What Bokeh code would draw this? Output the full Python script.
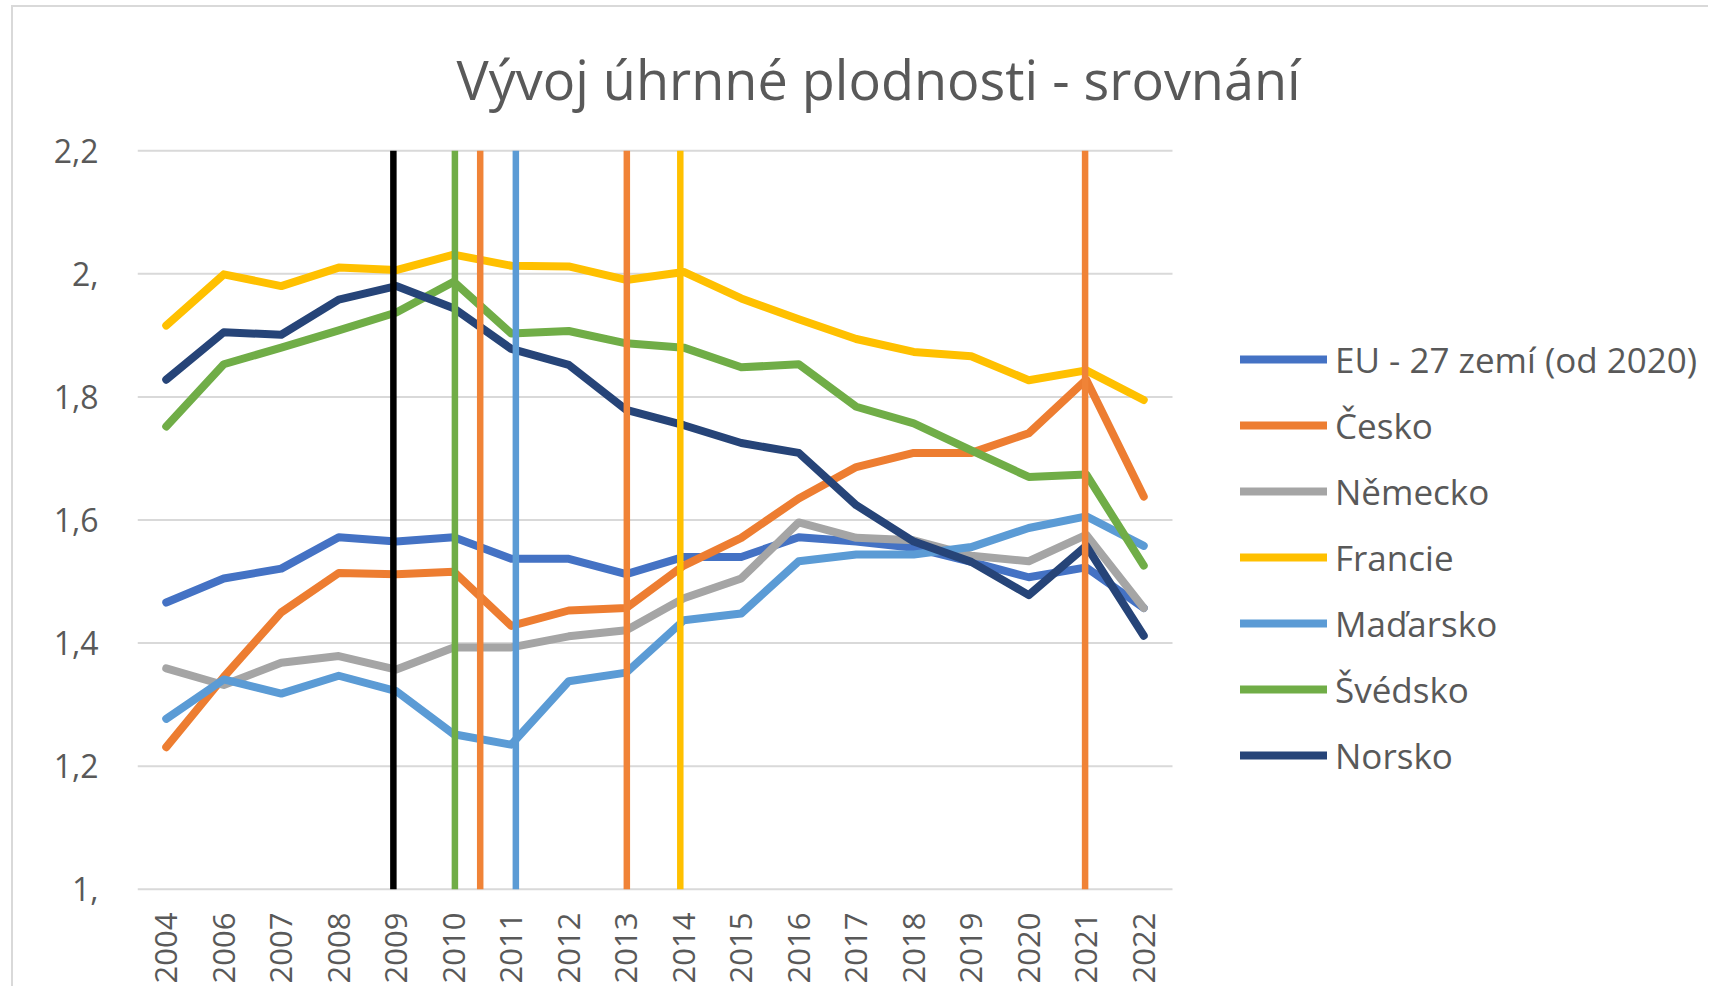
import math
from bokeh.plotting import figure
from bokeh.models import Range1d, FixedTicker, Legend, LegendItem
from bokeh.embed import file_html
from bokeh.resources import INLINE

# ---------------- data ----------------
years = ["2004", "2006", "2007", "2008", "2009", "2010", "2011", "2012", "2013",
         "2014", "2015", "2016", "2017", "2018", "2019", "2020", "2021", "2022"]

eu      = [1.466, 1.505, 1.521, 1.572, 1.565, 1.572, 1.537, 1.537, 1.512,
           1.540, 1.540, 1.572, 1.565, 1.555, 1.532, 1.507, 1.523, 1.457]
cesko   = [1.231, 1.345, 1.450, 1.514, 1.512, 1.516, 1.428, 1.453, 1.457,
           1.526, 1.571, 1.635, 1.686, 1.709, 1.709, 1.741, 1.828, 1.638]
nemecko = [1.359, 1.332, 1.368, 1.379, 1.357, 1.393, 1.393, 1.411, 1.421,
           1.473, 1.505, 1.596, 1.571, 1.567, 1.542, 1.533, 1.576, 1.457]
francie = [1.916, 1.999, 1.980, 2.010, 2.006, 2.031, 2.013, 2.012, 1.990,
           2.003, 1.960, 1.926, 1.894, 1.873, 1.866, 1.827, 1.843, 1.795]
madarsko = [1.277, 1.341, 1.318, 1.347, 1.322, 1.252, 1.235, 1.338, 1.352,
            1.437, 1.448, 1.533, 1.544, 1.544, 1.556, 1.587, 1.606, 1.558]
svedsko = [1.752, 1.853, 1.880, 1.908, 1.937, 1.987, 1.903, 1.907, 1.887,
           1.880, 1.848, 1.853, 1.784, 1.757, 1.713, 1.670, 1.674, 1.526]
norsko  = [1.828, 1.905, 1.901, 1.958, 1.980, 1.944, 1.878, 1.852, 1.779,
           1.754, 1.725, 1.709, 1.624, 1.565, 1.532, 1.478, 1.558, 1.412]

series_names = ["EU - 27 zemí (od 2020)", "Česko", "Německo", "Francie",
                "Maďarsko", "Švédsko", "Norsko"]
series_values = [eu, cesko, nemecko, francie, madarsko, svedsko, norsko]
series_colors = ["#4472C4", "#ED7D31", "#A5A5A5", "#FFC000",
                 "#5B9BD5", "#70AD47", "#264478"]

# vertical marker lines (position in category index units)
event_positions = [3.95, 5.02, 5.46, 6.08, 8.01, 8.94, 15.98]
event_colors = ["#000000", "#70AD47", "#F08337", "#5B9BD5",
                "#F08337", "#FFC000", "#F08337"]

y_ticks = [1.0, 1.2, 1.4, 1.6, 1.8, 2.0, 2.2]
y_tick_labels = ["1,", "1,2", "1,4", "1,6", "1,8", "2,", "2,2"]

title_text = "Vývoj úhrnné plodnosti - srovnání"

# ---------------- layout ----------------
TEXT = "#595959"
FONT = "Open Sans"
W, H = 1708, 986
LEFT, TOP, BOTTOM = 137, 144, 87
CAT_PX = 57.5                      # pixel width of one category
frame_w = W - LEFT
x_end = -0.5 + frame_w / CAT_PX    # frame extends right to hold the legend

p = figure(width=W, height=H,
           x_range=Range1d(-0.5, x_end),
           y_range=Range1d(0.99, 2.21),
           output_backend="svg", toolbar_location=None,
           min_border_left=LEFT, min_border_right=0,
           min_border_top=TOP, min_border_bottom=BOTTOM)

p.outline_line_color = None
p.background_fill_color = "white"
p.border_fill_alpha = 0
# light chart-area border (left and top edges), shown through the transparent border fill
p.styles = {
    "background": ("linear-gradient(#D9D9D9, #D9D9D9) 11px 5px / 2px 100% no-repeat, "
                   "linear-gradient(#D9D9D9, #D9D9D9) 11px 5px / 100% 2px no-repeat, "
                   "white"),
}

p.title.text = title_text
p.title.align = "left"
p.title.offset = 319
p.title.standoff = 57
p.title.text_font = FONT
p.title.text_font_size = "54px"
p.title.text_font_style = "normal"
p.title.text_color = TEXT

# axes
xs = list(range(len(years)))
p.xaxis.ticker = FixedTicker(ticks=xs)
p.xaxis.major_label_overrides = {i: y for i, y in zip(xs, years)}
p.xaxis.major_label_orientation = math.pi / 2
p.xaxis.major_label_standoff = 17
p.xaxis.major_label_text_font = FONT
p.xaxis.major_label_text_font_size = "31px"
p.xaxis.major_label_text_color = TEXT

p.yaxis.ticker = FixedTicker(ticks=y_ticks)
p.yaxis.major_label_overrides = {v: t for v, t in zip(y_ticks, y_tick_labels)}
p.yaxis.major_label_standoff = 39
p.yaxis.major_label_text_font = FONT
p.yaxis.major_label_text_font_size = "32px"
p.yaxis.major_label_text_color = TEXT

for ax in (p.xaxis, p.yaxis):
    ax.axis_line_color = None
    ax.major_tick_line_color = None
    ax.minor_tick_line_color = None
    ax.major_tick_out = 0
    ax.major_tick_in = 0
    ax.minor_tick_out = 0
    ax.minor_tick_in = 0

p.xgrid.visible = False
p.ygrid.visible = False

# horizontal gridlines limited to the category span
ny = len(y_ticks)
p.segment(x0=[-0.5] * ny, x1=[len(years) - 0.5] * ny, y0=y_ticks, y1=y_ticks,
          line_color="#D9D9D9", line_width=2)

# series
items = []
for name, vals, col in zip(series_names, series_values, series_colors):
    r = p.line(x=xs, y=vals, line_color=col, line_width=8,
               line_cap="round", line_join="round")
    items.append(LegendItem(label=name, renderers=[r]))

# vertical marker lines
n = len(event_positions)
p.segment(x0=event_positions, y0=[y_ticks[0]] * n,
          x1=event_positions, y1=[y_ticks[-1]] * n,
          line_color=event_colors, line_width=6.5)

legend = Legend(items=items, location=(1103, 107),
                padding=0, margin=0, spacing=0,
                glyph_width=87, glyph_height=66, label_height=66,
                label_standoff=8,
                label_text_font=FONT, label_text_font_size="35px",
                label_text_color=TEXT,
                border_line_color=None, background_fill_alpha=0)
p.add_layout(legend)

open("out.html", "w").write(file_html(p, INLINE))
